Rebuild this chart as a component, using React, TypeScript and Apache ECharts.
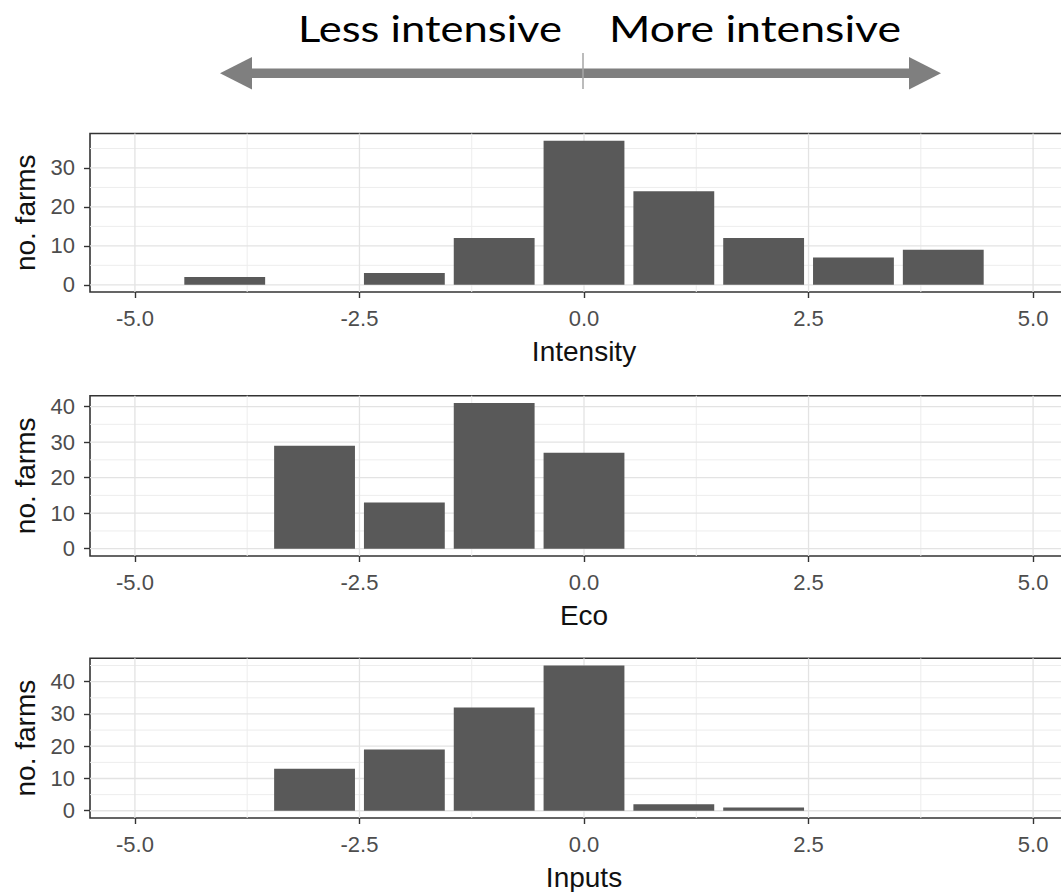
import React, { useEffect, useRef } from "react";
import * as echarts from "echarts";

// ---------- data ----------
const binCenters = [-4, -3, -2, -1, 0, 1, 2, 3, 4];
const intensityCounts = [2, 0, 3, 12, 37, 24, 12, 7, 9];
const ecoCounts = [0, 29, 13, 41, 27, 0, 0, 0, 0];
const inputsCounts = [0, 13, 19, 32, 45, 2, 1, 0, 0];
const panelTitles = ["Intensity", "Eco", "Inputs"];
const xTickValues = [-5, -2.5, 0, 2.5, 5];
const xMinorValues = [-3.75, -1.25, 1.25, 3.75];
const yLabel = "no. farms";
const topLabels = ["Less intensive", "More intensive"];

const panelCounts = [intensityCounts, ecoCounts, inputsCounts];

// ---------- layout ----------
const CHART_W = 1086;
const CHART_H = 892;
const GRID_LEFT = 90;
const GRID_W = 988;
const gridTops = [133.5, 395.7, 658.3];
const gridHeights = [158.5, 160.3, 160];

const FONT = "'Liberation Sans', Arial, Helvetica, sans-serif";
const TOP_FONT = "Lato, 'Open Sans', sans-serif";

const BAR_FILL = "#595959";
const GRID_MAJOR = "#e3e3e3";
const GRID_MINOR = "#ededed";

function buildOption() {
  const grids: any[] = [];
  const xAxes: any[] = [];
  const yAxes: any[] = [];
  const series: any[] = [];

  panelCounts.forEach((counts, i) => {
    const maxV = Math.max(...counts);
    const yMin = -0.05 * maxV;
    const yMax = 1.05 * maxV;
    const yMajor: number[] = [];
    for (let v = 0; v <= yMax; v += 10) yMajor.push(v);
    const yMinor: number[] = [];
    for (let v = 5; v <= yMax; v += 10) yMinor.push(v);

    grids.push({
      left: GRID_LEFT,
      top: gridTops[i],
      width: GRID_W,
      height: gridHeights[i],
      show: true,
      borderColor: "#333333",
      borderWidth: 1.6,
      backgroundColor: "transparent",
      containLabel: false,
    });

    xAxes.push({
      type: "value",
      gridIndex: i,
      min: -5.5,
      max: 5.5,
      axisLine: { show: false, onZero: false },
      axisTick: {
        show: true,
        customValues: xTickValues,
        length: 6,
        lineStyle: { color: "#333333", width: 1.4 },
      },
      axisLabel: {
        show: true,
        customValues: xTickValues,
        formatter: (v: number) => v.toFixed(1),
        color: "#4d4d4d",
        fontSize: 22,
        fontFamily: FONT,
        margin: 15,
      },
      splitLine: { show: false },
      name: panelTitles[i],
      nameLocation: "middle",
      nameGap: 45,
      nameTextStyle: { fontSize: 28, color: "#111", fontFamily: FONT },
    });

    yAxes.push({
      type: "value",
      gridIndex: i,
      min: yMin,
      max: yMax,
      axisLine: { show: false, onZero: false },
      axisTick: {
        show: true,
        customValues: yMajor,
        length: 6,
        lineStyle: { color: "#333333", width: 1.4 },
      },
      axisLabel: {
        show: true,
        customValues: yMajor,
        color: "#4d4d4d",
        fontSize: 22,
        fontFamily: FONT,
        margin: 15,
      },
      splitLine: { show: false },
      name: yLabel,
      nameLocation: "middle",
      nameGap: 48,
      nameTextStyle: { fontSize: 28, color: "#111", fontFamily: FONT },
    });

    const vLine = (color: string, w: number) => (params: any, api: any) => {
      const cs = params.coordSys;
      const x = api.coord([api.value(0), 0])[0];
      return {
        type: "line",
        shape: { x1: x, y1: cs.y, x2: x, y2: cs.y + cs.height },
        style: { stroke: color, lineWidth: w },
      };
    };
    const hLine = (color: string, w: number) => (params: any, api: any) => {
      const cs = params.coordSys;
      const y = api.coord([0, api.value(1)])[1];
      return {
        type: "line",
        shape: { x1: cs.x, y1: y, x2: cs.x + cs.width, y2: y },
        style: { stroke: color, lineWidth: w },
      };
    };

    series.push(
      {
        type: "custom",
        xAxisIndex: i,
        yAxisIndex: i,
        silent: true,
        z: 1,
        renderItem: vLine(GRID_MINOR, 1),
        data: xMinorValues.map((v) => [v, 0]),
      },
      {
        type: "custom",
        xAxisIndex: i,
        yAxisIndex: i,
        silent: true,
        z: 1,
        renderItem: hLine(GRID_MINOR, 1),
        data: yMinor.map((v) => [0, v]),
      },
      {
        type: "custom",
        xAxisIndex: i,
        yAxisIndex: i,
        silent: true,
        z: 1,
        renderItem: vLine(GRID_MAJOR, 1.3),
        data: xTickValues.map((v) => [v, 0]),
      },
      {
        type: "custom",
        xAxisIndex: i,
        yAxisIndex: i,
        silent: true,
        z: 1,
        renderItem: hLine(GRID_MAJOR, 1.3),
        data: yMajor.map((v) => [0, v]),
      },
      {
        type: "custom",
        xAxisIndex: i,
        yAxisIndex: i,
        silent: true,
        z: 3,
        renderItem: (params: any, api: any) => {
          const x = api.value(0);
          const v = api.value(1);
          if (!v) return { type: "group", children: [] };
          const p0 = api.coord([x - 0.45, 0]);
          const p1 = api.coord([x + 0.45, v]);
          return {
            type: "rect",
            shape: {
              x: p0[0],
              y: p1[1],
              width: p1[0] - p0[0],
              height: p0[1] - p1[1],
            },
            style: { fill: BAR_FILL },
          };
        },
        data: binCenters.map((c, k) => [c, counts[k]]),
      }
    );
  });

  const arrowColor = "#7f7f7f";
  const graphic: any[] = [
    {
      type: "rect",
      shape: { x: 248, y: 68.5, width: 662, height: 9.5 },
      style: { fill: arrowColor },
    },
    {
      type: "polygon",
      shape: { points: [[220, 73.2], [252, 57], [252, 89.5]] },
      style: { fill: arrowColor },
    },
    {
      type: "polygon",
      shape: { points: [[941, 73.2], [909, 57], [909, 89.5]] },
      style: { fill: arrowColor },
    },
    {
      type: "line",
      shape: { x1: 583, y1: 53, x2: 583, y2: 89 },
      style: { stroke: "#a6a6a6", lineWidth: 1.5 },
    },
    {
      type: "text",
      x: 298,
      y: 28,
      scaleX: 1.21,
      style: {
        text: topLabels[0],
        fill: "#000",
        fontSize: 36,
        fontFamily: TOP_FONT,
        verticalAlign: "middle",
        align: "left",
      },
    },
    {
      type: "text",
      x: 609,
      y: 28,
      scaleX: 1.24,
      style: {
        text: topLabels[1],
        fill: "#000",
        fontSize: 36,
        fontFamily: TOP_FONT,
        verticalAlign: "middle",
        align: "left",
      },
    },
  ];

  return {
    animation: false,
    backgroundColor: "#ffffff",
    grid: grids,
    xAxis: xAxes,
    yAxis: yAxes,
    series,
    graphic,
  };
}

export default function App() {
  const ref = useRef<HTMLDivElement>(null);
  useEffect(() => {
    if (!ref.current) return;
    const chart = echarts.init(ref.current, undefined, { renderer: "svg" });
    chart.setOption(buildOption() as any);
    return () => chart.dispose();
  }, []);
  return (
    <div
      style={{
        position: "fixed",
        left: 0,
        top: 0,
        width: 1061,
        height: 892,
        overflow: "hidden",
        background: "#fff",
      }}
    >
      <div ref={ref} style={{ width: CHART_W, height: CHART_H }} />
    </div>
  );
}
